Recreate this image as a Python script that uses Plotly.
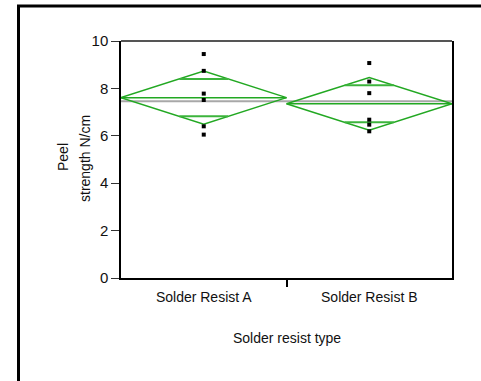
import plotly.graph_objects as go

categories = ["Solder Resist A", "Solder Resist B"]
values_a = [9.45, 8.74, 7.78, 7.51, 6.40, 6.05]
values_b = [9.07, 8.29, 7.80, 6.68, 6.47, 6.19]
group_means = [7.61, 7.35]
ci_half = [1.12, 1.11]
overlap_half = [0.79, 0.78]
grand_mean = 7.46
y_ticks = [0, 2, 4, 6, 8, 10]

green = "#22a822"
fig = go.Figure()

# grand mean line
fig.add_trace(go.Scatter(x=[0, 2], y=[grand_mean, grand_mean], mode="lines",
                         line=dict(color="#a8a8a8", width=2), hoverinfo="skip"))

for i, (m, c, o) in enumerate(zip(group_means, ci_half, overlap_half)):
    x0, xc, x1 = i, i + 0.5, i + 1
    # diamond
    fig.add_trace(go.Scatter(x=[x0, xc, x1, xc, x0], y=[m, m + c, m, m - c, m],
                             mode="lines", line=dict(color=green, width=1.5)))
    # mean line
    fig.add_trace(go.Scatter(x=[x0, x1], y=[m, m], mode="lines",
                             line=dict(color=green, width=1.5)))
    # overlap marks
    f = 0.5 * (1 - o / c)
    for yy in (m + o, m - o):
        fig.add_trace(go.Scatter(x=[xc - f, xc + f], y=[yy, yy], mode="lines",
                                 line=dict(color="#3cb43c", width=2)))

for i, vals in enumerate([values_a, values_b]):
    fig.add_trace(go.Scatter(x=[i + 0.5] * len(vals), y=vals, mode="markers",
                             marker=dict(symbol="square", size=4, color="black")))

tf = dict(family="Liberation Sans, Arial", size=14, color="#111")
fig.update_layout(
    width=481, height=381,
    margin=dict(l=121, r=29, t=41, b=103),
    paper_bgcolor="white", plot_bgcolor="white",
    showlegend=False,
    font=tf,
    xaxis=dict(range=[0, 2], tickvals=[0.5, 1.5], ticktext=categories,
               ticks="", showgrid=False, zeroline=False, tickfont=tf,
               ticklabelstandoff=5,
               showline=True, linecolor="black", linewidth=1.5,
               minor=dict(tickvals=[1], ticks="outside", ticklen=7, tickcolor="black", tickwidth=1.5)),
    yaxis=dict(range=[0, 10], tickvals=y_ticks, ticks="outside", ticklen=8,
               tickcolor="#333", tickwidth=1.2, showgrid=False, zeroline=False,
               tickfont=dict(family="Liberation Sans, Arial", size=15, color="#111"),
               showline=True, linecolor="black", linewidth=1.5, mirror=True),
    annotations=[
        dict(text="Solder resist type", xref="paper", yref="paper", x=0.5, y=-(338 - 278) / 237,
             showarrow=False, font=tf, xanchor="center", yanchor="middle"),
        dict(text="Peel", xref="paper", yref="paper",
             x=-(121 - 63) / 331, y=(278 - 157) / 237, textangle=-90,
             showarrow=False, font=tf, xanchor="center", yanchor="middle"),
        dict(text="strength N/cm", xref="paper", yref="paper",
             x=-(121 - 85) / 331, y=(278 - 159) / 237, textangle=-90,
             showarrow=False, font=tf, xanchor="center", yanchor="middle"),
    ],
    shapes=[
        dict(type="line", xref="paper", yref="paper", x0=0, x1=1, y0=1, y1=1,
             line=dict(color="#555", width=2)),
        dict(type="rect", xref="paper", yref="paper",
             x0=-(121 - 18.5) / 331, x1=(500 - 121) / 331,
             y0=-(420 - 278) / 237, y1=1 + (41 - 6) / 237,
             line=dict(color="black", width=3), layer="below"),
    ],
)

fig.write_html("out.html")
